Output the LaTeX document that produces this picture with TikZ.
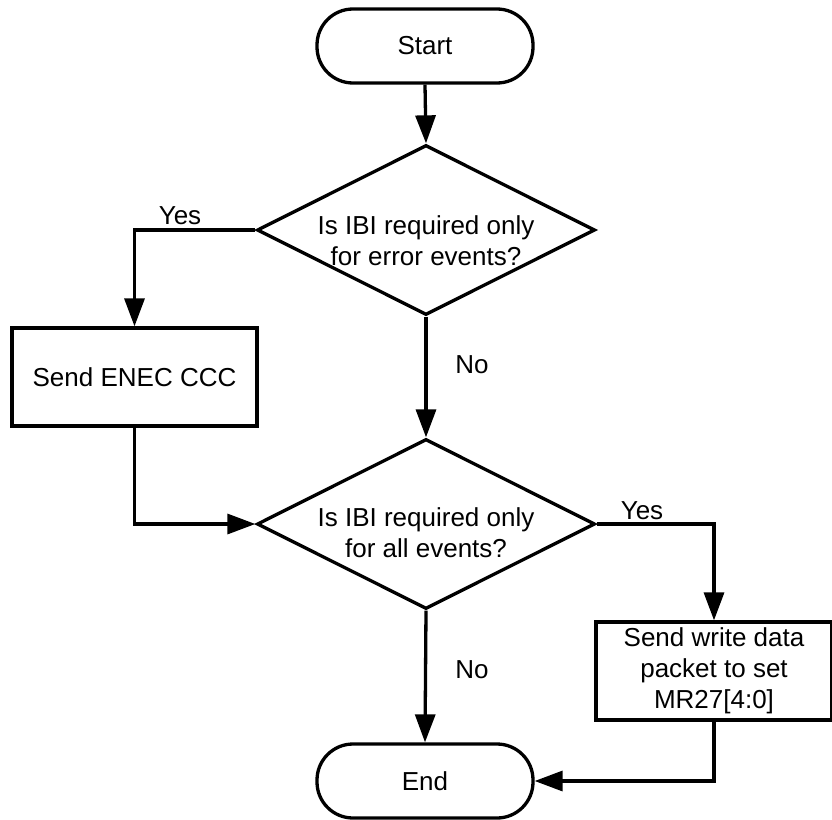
\documentclass[tikz,border=0pt]{standalone}
\usepackage{fontspec}
\setmainfont{Liberation Sans}
\usetikzlibrary{shapes.geometric,arrows.meta}
\begin{document}
\begin{tikzpicture}[x=1pt,y=-1pt,
  every node/.style={font=\fontsize{26}{31}\selectfont},
  line/.style={line width=3.3pt},
  flow/.style={line, -{Triangle[length=28pt,width=20pt]}},
  terminal/.style={draw, line, rounded corners=36pt, minimum width=216pt, minimum height=74pt},
  process/.style={draw, line, minimum height=98pt},
  decision/.style={draw, line, diamond, minimum width=338pt, minimum height=170pt, inner sep=0pt},
  caption/.style={align=center, inner sep=0pt}
]
\useasboundingbox (0,0) rectangle (832,819);

% Terminals
\node[terminal] (start) at (425,46) {Start};
\node[terminal] (stop) at (425,781) {End};

% Decisions
\node[decision] (d1) at (426,230) {};
\node[caption] (d1text) at (426,241) {Is IBI required only\\for error events?};
\node[decision] (d2) at (426,524) {};
\node[caption] (d2text) at (426,533) {Is IBI required only\\for all events?};

% Processes
\node[process, minimum width=245pt] (box1) at (134.5,377) {Send ENEC CCC};
\node[process, minimum width=236pt, caption, draw, line, minimum height=98pt] (box2) at (714,671) {Send write data\\packet to set\\MR27[4:0]};

% Connectors
\draw[flow] (start.south) -- (d1.north);
\draw[flow] (d1.west) -| (box1.north);
\draw[flow] (box1.south) |- (d2.west);
\draw[flow] (d1.south) -- (d2.north);
\draw[flow] (d2.east) -| (box2.north);
\draw[flow] (d2.south) -- (stop.north);
\draw[flow] (box2.south) |- (stop.east);

% Branch labels
\node (y1) at (180,216) {Yes};
\node (n1) at (472,365) {No};
\node (y2) at (642,511) {Yes};
\node (n2) at (472,670) {No};
\end{tikzpicture}
\end{document}
